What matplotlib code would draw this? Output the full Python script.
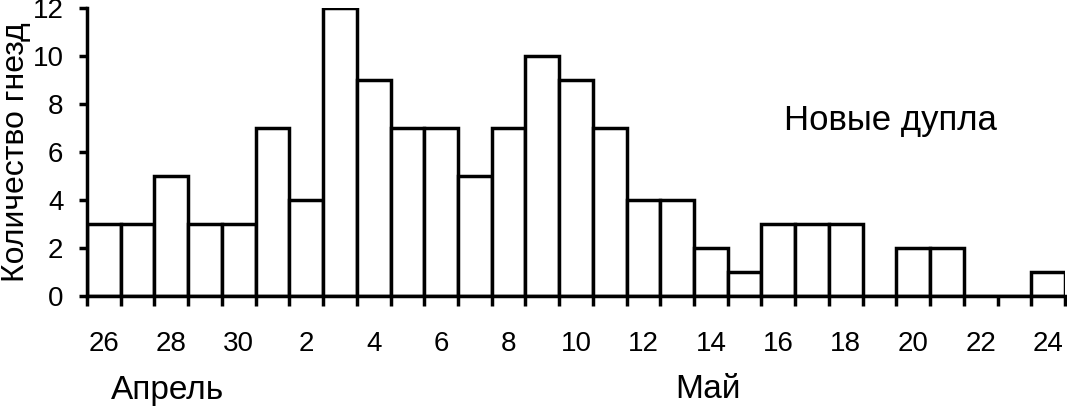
import matplotlib
matplotlib.use("Agg")
import matplotlib.pyplot as plt
import matplotlib.transforms as mtransforms
import numpy as np

plt.rcParams['font.family'] = ['Liberation Sans', 'DejaVu Sans']

# дни: 26 апреля ... 24 мая
days = [26, 27, 28, 29, 30, 1, 2, 3, 4, 5, 6, 7, 8, 9, 10, 11, 12, 13, 14,
        15, 16, 17, 18, 19, 20, 21, 22, 23, 24]
counts = [3, 3, 5, 3, 3, 7, 4, 12, 9, 7, 7, 5, 7, 10, 9, 7, 4, 4, 2,
          1, 3, 3, 3, 0, 2, 2, 0, 0, 1]
month_labels = ['Апрель', 'Май']
month_pos = [2, 18]  # индекс дня под которым подпись

W, H = 1067, 409
fig = plt.figure(figsize=(W / 100, H / 100), dpi=100)
ax = fig.add_axes([87 / W, 1 - 296 / H, (1065 - 87) / W, (296 - 8) / H])

x = np.arange(len(days))
ax.bar(x, counts, width=1.0, color='white', edgecolor='black', linewidth=2.5)

ax.set_xlim(-0.5, len(days) - 0.5)
ax.set_ylim(0, 12)

for s in ['top', 'right']:
    ax.spines[s].set_visible(False)
for s in ['left', 'bottom']:
    ax.spines[s].set_linewidth(2.5)

# подписи дней - через один, по центру столбика
ax.set_xticks(x[::2])
ax.set_xticklabels([str(d) for d in days[::2]], fontsize=20)
ax.set_xticks(np.arange(len(days) + 1) - 0.5, minor=True)
ax.tick_params(axis='x', which='major', length=0, pad=25)
ax.tick_params(axis='x', which='minor', length=7, width=2.5, direction='out')

ax.set_yticks(np.arange(0, 13, 2))
ax.tick_params(axis='y', length=6, width=2.5, direction='out', pad=11, labelsize=20)

ax.set_ylabel('Количество гнезд', fontsize=23)
ax.yaxis.set_label_coords(-0.057, 0.5)

trans = mtransforms.blended_transform_factory(ax.transData, fig.transFigure)
for lab, p in zip(month_labels, month_pos):
    ax.text(p - 0.1, 1 - 390 / H, lab, transform=trans, ha='center', va='center', fontsize=24)

ax.text(0.822, 0.61, 'Новые дупла', transform=ax.transAxes, ha='center', va='center', fontsize=25)

fig.savefig('out.png', dpi=100)
